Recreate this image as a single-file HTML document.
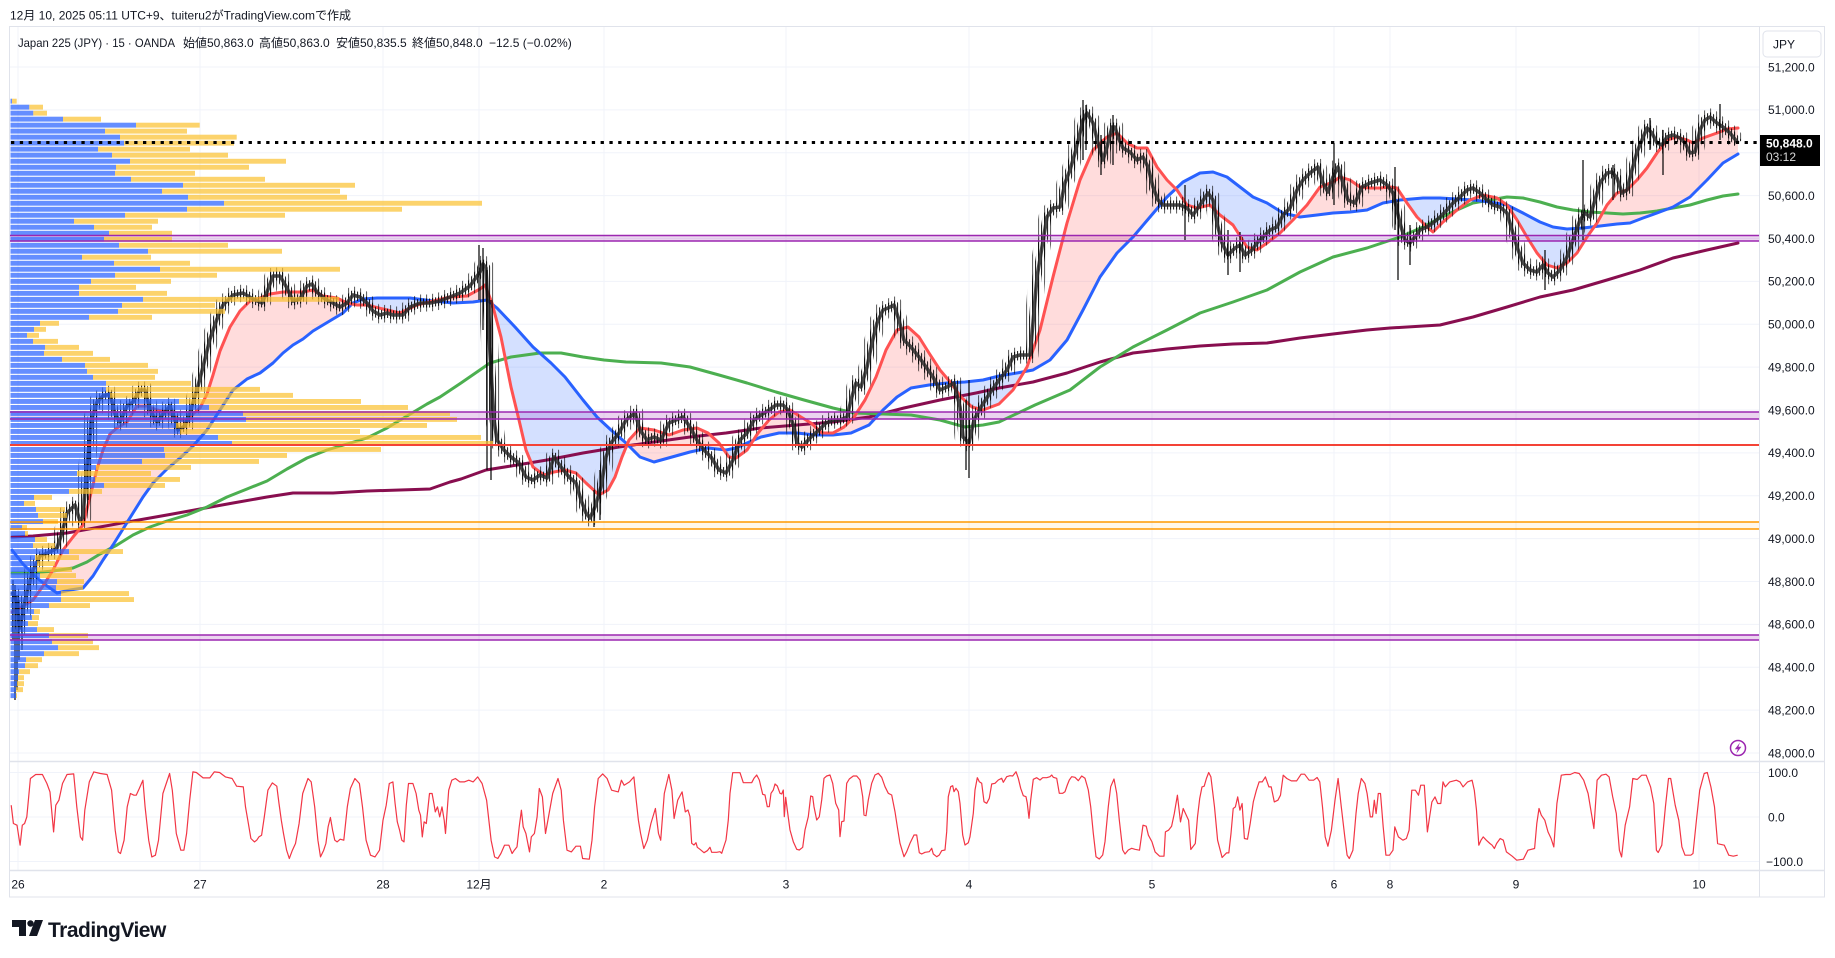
<!DOCTYPE html>
<html><head><meta charset="utf-8"><style>
html,body{margin:0;padding:0;background:#fff;}
body{width:1835px;height:958px;overflow:hidden;}
svg{display:block;font-family:"Liberation Sans","Noto Sans CJK JP",sans-serif;}
</style></head><body>
<svg width="1835" height="958" viewBox="0 0 1835 958" xmlns="http://www.w3.org/2000/svg">
<defs>
<clipPath id="plot"><rect x="9" y="27" width="1750" height="734"/></clipPath>
<clipPath id="osc"><rect x="9" y="762" width="1750" height="108"/></clipPath>
<clipPath id="aboveBlue"><polygon points="12,0 12,550 23,564 37,578 47,586 57,593 70,590 83,588 93,576 103,560 113,545 123,529 133,513 143,497 153,483 167,469 180,458 193,446 207,430 220,410 233,390 247,379 260,373 273,363 283,353 293,345 303,339 313,331 323,325 333,319 343,313 353,303 363,299 377,298 393,298 410,298 433,301 453,303 473,302 487,300 497,308 515,327 533,347 551,363 565,377 583,400 597,417 611,430 626,443 640,457 654,462 672,457 690,452 708,448 726,450 736,448 747,443 761,437 779,433 797,433 815,435 833,435 851,433 869,425 883,410 897,397 911,388 929,385 947,383 965,382 983,380 999,376 1017,373 1033,370 1050,360 1067,340 1083,310 1100,277 1117,253 1133,237 1150,217 1167,197 1183,182 1200,173 1213,172 1227,177 1240,187 1253,197 1267,203 1283,213 1300,217 1317,215 1333,213 1350,212 1367,210 1383,203 1400,200 1423,198 1440,198 1457,199 1473,200 1490,202 1507,205 1523,213 1540,222 1553,227 1567,229 1583,228 1600,226 1617,224 1630,223 1643,218 1657,213 1673,207 1690,197 1707,180 1723,163 1738,154 1738,0"/></clipPath>
<clipPath id="aboveRed"><polygon points="12,0 12,612 20,608 33,600 43,586 53,570 63,550 73,537 83,525 90,497 97,469 103,450 110,434 117,428 127,422 137,406 147,406 157,410 167,412 177,418 187,422 193,414 200,408 207,394 213,375 220,351 230,327 240,311 250,301 260,298 270,294 283,292 303,292 313,290 323,296 337,298 347,303 357,305 367,305 383,309 400,313 417,305 433,301 450,297 467,296 480,289 485,285 492,303 501,337 511,387 519,420 526,450 533,467 544,475 554,472 565,470 576,473 586,483 599,495 608,490 615,477 622,457 629,440 640,428 654,430 669,435 683,430 697,428 708,433 719,443 729,457 736,458 747,450 758,433 769,420 779,412 790,410 801,417 811,423 822,433 833,433 844,427 854,417 865,400 876,377 886,350 897,330 908,327 919,337 929,353 940,370 951,383 961,397 972,407 983,410 999,404 1013,390 1027,367 1040,330 1053,277 1067,223 1080,180 1093,150 1107,137 1117,133 1127,143 1137,148 1147,148 1157,167 1167,180 1177,190 1187,205 1197,208 1210,205 1220,215 1233,225 1247,247 1257,250 1267,243 1280,233 1293,220 1307,205 1320,187 1333,182 1340,177 1350,180 1360,187 1370,188 1380,188 1390,187 1397,188 1407,203 1417,217 1427,227 1433,232 1443,222 1457,210 1470,200 1483,195 1497,198 1507,205 1517,220 1527,237 1537,253 1547,265 1557,268 1567,263 1577,253 1587,237 1597,223 1607,205 1617,193 1627,190 1637,180 1647,168 1657,153 1667,140 1677,137 1687,140 1693,143 1703,138 1717,133 1727,129 1738,128 1738,0"/></clipPath>
<pattern id="w1" patternUnits="userSpaceOnUse" width="3" height="4"><rect x="0" y="0" width="1.1" height="4" fill="#000"/></pattern>
<pattern id="w2" patternUnits="userSpaceOnUse" width="6" height="4"><rect x="0" y="0" width="1.1" height="4" fill="#000"/></pattern>
<polyline id="px" points="12,592 16,600 20,628 25,600 33,570 40,556 50,552 57,548 62,533 67,513 75,505 80,521 83,517 87,465 92,418 97,402 103,396 110,394 115,414 120,422 127,406 133,402 140,390 145,390 150,410 157,422 163,414 170,406 173,414 178,430 185,426 192,406 198,386 203,367 210,339 217,319 223,305 233,295 243,293 253,299 262,303 267,292 273,276 280,276 287,288 293,301 300,299 307,286 312,284 317,292 325,299 333,303 340,307 347,303 353,295 360,297 367,303 373,311 380,315 387,313 393,315 403,315 410,307 420,303 430,303 440,301 450,297 460,293 470,286 480,272 483,264 486,268 490,353 494,420 497,440 504,450 511,457 519,463 526,477 533,480 540,475 547,478 554,457 561,467 569,477 576,483 581,500 586,513 590,518 595,507 601,487 606,457 611,443 619,433 626,420 635,413 640,430 647,440 654,437 661,440 669,423 676,420 683,417 690,427 697,440 704,450 711,457 719,470 726,473 733,460 740,440 747,433 754,420 761,415 769,410 776,405 783,405 788,410 794,427 797,443 802,447 811,437 819,430 826,423 833,420 840,420 847,417 851,400 856,383 861,387 867,367 872,343 877,323 883,310 888,308 894,305 899,320 904,340 911,347 919,357 926,367 933,377 940,390 947,387 954,383 960,407 963,437 969,443 974,420 981,407 990,393 999,380 1007,370 1013,357 1020,355 1030,355 1033,323 1037,277 1042,247 1047,217 1053,208 1060,207 1065,183 1070,170 1075,153 1080,133 1083,120 1087,113 1093,123 1098,143 1103,160 1107,147 1112,127 1115,127 1118,137 1123,148 1130,152 1137,160 1143,157 1148,167 1153,187 1158,200 1163,205 1170,205 1180,205 1187,208 1193,215 1200,205 1208,193 1213,200 1217,223 1222,243 1228,255 1235,248 1240,245 1245,255 1252,250 1257,243 1263,237 1270,230 1277,227 1283,215 1290,208 1297,190 1303,180 1310,173 1318,167 1323,183 1328,192 1333,177 1338,167 1343,183 1348,200 1355,203 1362,187 1370,183 1380,180 1387,185 1393,193 1400,223 1405,240 1410,243 1415,237 1420,230 1427,227 1433,223 1440,217 1447,210 1453,203 1460,197 1467,190 1473,188 1480,193 1487,200 1493,205 1500,207 1507,213 1512,230 1517,247 1523,263 1530,270 1537,272 1543,265 1548,273 1553,277 1560,270 1567,257 1573,240 1580,220 1585,213 1590,217 1595,200 1600,183 1607,173 1612,172 1617,178 1622,193 1627,190 1632,170 1637,152 1642,140 1647,128 1652,133 1657,143 1662,145 1667,137 1673,135 1680,138 1685,143 1690,153 1695,152 1700,130 1705,120 1710,117 1717,123 1723,127 1730,133 1738,143"/>
</defs>

<rect x="0" y="0" width="1835" height="958" fill="#fff"/>

<!-- header -->
<text x="10" y="19.3" font-size="12" fill="#131722">12月 10, 2025 05:11 UTC+9、tuiteru2がTradingView.comで作成</text>

<!-- grid -->
<g stroke="#f0f3fa" stroke-width="1">
<line x1="9" y1="67" x2="1759" y2="67"/><line x1="9" y1="109.9" x2="1759" y2="109.9"/><line x1="9" y1="152.8" x2="1759" y2="152.8"/><line x1="9" y1="195.6" x2="1759" y2="195.6"/><line x1="9" y1="238.5" x2="1759" y2="238.5"/><line x1="9" y1="281.4" x2="1759" y2="281.4"/><line x1="9" y1="324.3" x2="1759" y2="324.3"/><line x1="9" y1="367.1" x2="1759" y2="367.1"/><line x1="9" y1="410" x2="1759" y2="410"/><line x1="9" y1="452.9" x2="1759" y2="452.9"/><line x1="9" y1="495.8" x2="1759" y2="495.8"/><line x1="9" y1="538.6" x2="1759" y2="538.6"/><line x1="9" y1="581.5" x2="1759" y2="581.5"/><line x1="9" y1="624.4" x2="1759" y2="624.4"/><line x1="9" y1="667.3" x2="1759" y2="667.3"/><line x1="9" y1="710.1" x2="1759" y2="710.1"/><line x1="9" y1="753" x2="1759" y2="753"/>
<line x1="9" y1="772.5" x2="1759" y2="772.5"/><line x1="9" y1="817" x2="1759" y2="817"/><line x1="9" y1="861.5" x2="1759" y2="861.5"/>
<line x1="18" y1="27" x2="18" y2="870"/><line x1="200" y1="27" x2="200" y2="870"/><line x1="383" y1="27" x2="383" y2="870"/><line x1="479" y1="27" x2="479" y2="870"/><line x1="604" y1="27" x2="604" y2="870"/><line x1="786" y1="27" x2="786" y2="870"/><line x1="969" y1="27" x2="969" y2="870"/><line x1="1152" y1="27" x2="1152" y2="870"/><line x1="1334" y1="27" x2="1334" y2="870"/><line x1="1390" y1="27" x2="1390" y2="870"/><line x1="1516" y1="27" x2="1516" y2="870"/><line x1="1699" y1="27" x2="1699" y2="870"/>
</g>

<g clip-path="url(#plot)">
<!-- band fills -->
<rect x="9" y="235.5" width="1750" height="5.5" fill="#9c27b0" fill-opacity=".2"/>
<rect x="9" y="412" width="1750" height="7" fill="#9c27b0" fill-opacity=".2"/>
<rect x="9" y="522" width="1750" height="7" fill="#ff9800" fill-opacity=".08"/>
<rect x="9" y="635" width="1750" height="5" fill="#9c27b0" fill-opacity=".2"/>

<!-- ribbon fills -->
<polygon clip-path="url(#aboveBlue)" fill="#ff5252" fill-opacity=".2" points="12,900 12,612 20,608 33,600 43,586 53,570 63,550 73,537 83,525 90,497 97,469 103,450 110,434 117,428 127,422 137,406 147,406 157,410 167,412 177,418 187,422 193,414 200,408 207,394 213,375 220,351 230,327 240,311 250,301 260,298 270,294 283,292 303,292 313,290 323,296 337,298 347,303 357,305 367,305 383,309 400,313 417,305 433,301 450,297 467,296 480,289 485,285 492,303 501,337 511,387 519,420 526,450 533,467 544,475 554,472 565,470 576,473 586,483 599,495 608,490 615,477 622,457 629,440 640,428 654,430 669,435 683,430 697,428 708,433 719,443 729,457 736,458 747,450 758,433 769,420 779,412 790,410 801,417 811,423 822,433 833,433 844,427 854,417 865,400 876,377 886,350 897,330 908,327 919,337 929,353 940,370 951,383 961,397 972,407 983,410 999,404 1013,390 1027,367 1040,330 1053,277 1067,223 1080,180 1093,150 1107,137 1117,133 1127,143 1137,148 1147,148 1157,167 1167,180 1177,190 1187,205 1197,208 1210,205 1220,215 1233,225 1247,247 1257,250 1267,243 1280,233 1293,220 1307,205 1320,187 1333,182 1340,177 1350,180 1360,187 1370,188 1380,188 1390,187 1397,188 1407,203 1417,217 1427,227 1433,232 1443,222 1457,210 1470,200 1483,195 1497,198 1507,205 1517,220 1527,237 1537,253 1547,265 1557,268 1567,263 1577,253 1587,237 1597,223 1607,205 1617,193 1627,190 1637,180 1647,168 1657,153 1667,140 1677,137 1687,140 1693,143 1703,138 1717,133 1727,129 1738,128 1738,900"/>
<polygon clip-path="url(#aboveRed)" fill="#2962ff" fill-opacity=".2" points="12,900 12,550 23,564 37,578 47,586 57,593 70,590 83,588 93,576 103,560 113,545 123,529 133,513 143,497 153,483 167,469 180,458 193,446 207,430 220,410 233,390 247,379 260,373 273,363 283,353 293,345 303,339 313,331 323,325 333,319 343,313 353,303 363,299 377,298 393,298 410,298 433,301 453,303 473,302 487,300 497,308 515,327 533,347 551,363 565,377 583,400 597,417 611,430 626,443 640,457 654,462 672,457 690,452 708,448 726,450 736,448 747,443 761,437 779,433 797,433 815,435 833,435 851,433 869,425 883,410 897,397 911,388 929,385 947,383 965,382 983,380 999,376 1017,373 1033,370 1050,360 1067,340 1083,310 1100,277 1117,253 1133,237 1150,217 1167,197 1183,182 1200,173 1213,172 1227,177 1240,187 1253,197 1267,203 1283,213 1300,217 1317,215 1333,213 1350,212 1367,210 1383,203 1400,200 1423,198 1440,198 1457,199 1473,200 1490,202 1507,205 1523,213 1540,222 1553,227 1567,229 1583,228 1600,226 1617,224 1630,223 1643,218 1657,213 1673,207 1690,197 1707,180 1723,163 1738,154 1738,900"/>

<!-- moving averages -->
<g fill="none" stroke-width="3" stroke-linejoin="round" stroke-linecap="round">
<polyline stroke="#880e4f" points="12,537 33,536 67,533 100,527 133,521 167,515 200,509 233,503 267,497 293,493 333,493 367,491 400,490 430,489 450,482 461,479 486,470 511,466 547,460 583,453 619,447 654,442 690,437 726,433 761,428 797,425 833,422 869,417 904,408 940,400 976,393 999,388 1033,382 1067,373 1100,362 1133,353 1167,349 1200,346 1233,344 1267,343 1300,338 1333,334 1367,330 1390,328 1440,325 1473,317 1507,307 1540,297 1573,290 1607,280 1640,270 1673,258 1707,250 1738,243"/>
<polyline stroke="#4caf50" points="12,573 33,573 53,571 73,568 87,562 100,554 117,545 133,535 150,527 167,521 187,515 207,507 227,497 247,489 267,481 287,469 307,458 327,450 347,444 367,438 387,428 407,416 427,404 440,397 461,383 490,363 511,357 540,353 561,353 583,357 604,360 626,362 661,363 690,367 719,375 747,383 776,392 804,400 833,408 854,413 883,414 911,415 940,420 965,427 983,425 999,422 1035,405 1070,390 1100,367 1133,347 1167,330 1200,313 1233,302 1267,290 1300,272 1333,257 1367,248 1400,237 1423,227 1440,218 1457,210 1473,203 1490,200 1507,197 1523,198 1540,202 1557,207 1573,210 1590,212 1607,213 1623,214 1640,213 1657,211 1673,208 1690,205 1707,200 1723,196 1738,194"/>
<polyline stroke="#2962ff" points="12,550 23,564 37,578 47,586 57,593 70,590 83,588 93,576 103,560 113,545 123,529 133,513 143,497 153,483 167,469 180,458 193,446 207,430 220,410 233,390 247,379 260,373 273,363 283,353 293,345 303,339 313,331 323,325 333,319 343,313 353,303 363,299 377,298 393,298 410,298 433,301 453,303 473,302 487,300 497,308 515,327 533,347 551,363 565,377 583,400 597,417 611,430 626,443 640,457 654,462 672,457 690,452 708,448 726,450 736,448 747,443 761,437 779,433 797,433 815,435 833,435 851,433 869,425 883,410 897,397 911,388 929,385 947,383 965,382 983,380 999,376 1017,373 1033,370 1050,360 1067,340 1083,310 1100,277 1117,253 1133,237 1150,217 1167,197 1183,182 1200,173 1213,172 1227,177 1240,187 1253,197 1267,203 1283,213 1300,217 1317,215 1333,213 1350,212 1367,210 1383,203 1400,200 1423,198 1440,198 1457,199 1473,200 1490,202 1507,205 1523,213 1540,222 1553,227 1567,229 1583,228 1600,226 1617,224 1630,223 1643,218 1657,213 1673,207 1690,197 1707,180 1723,163 1738,154"/>
<polyline stroke="#ff5252" points="12,612 20,608 33,600 43,586 53,570 63,550 73,537 83,525 90,497 97,469 103,450 110,434 117,428 127,422 137,406 147,406 157,410 167,412 177,418 187,422 193,414 200,408 207,394 213,375 220,351 230,327 240,311 250,301 260,298 270,294 283,292 303,292 313,290 323,296 337,298 347,303 357,305 367,305 383,309 400,313 417,305 433,301 450,297 467,296 480,289 485,285 492,303 501,337 511,387 519,420 526,450 533,467 544,475 554,472 565,470 576,473 586,483 599,495 608,490 615,477 622,457 629,440 640,428 654,430 669,435 683,430 697,428 708,433 719,443 729,457 736,458 747,450 758,433 769,420 779,412 790,410 801,417 811,423 822,433 833,433 844,427 854,417 865,400 876,377 886,350 897,330 908,327 919,337 929,353 940,370 951,383 961,397 972,407 983,410 999,404 1013,390 1027,367 1040,330 1053,277 1067,223 1080,180 1093,150 1107,137 1117,133 1127,143 1137,148 1147,148 1157,167 1167,180 1177,190 1187,205 1197,208 1210,205 1220,215 1233,225 1247,247 1257,250 1267,243 1280,233 1293,220 1307,205 1320,187 1333,182 1340,177 1350,180 1360,187 1370,188 1380,188 1390,187 1397,188 1407,203 1417,217 1427,227 1433,232 1443,222 1457,210 1470,200 1483,195 1497,198 1507,205 1517,220 1527,237 1537,253 1547,265 1557,268 1567,263 1577,253 1587,237 1597,223 1607,205 1617,193 1627,190 1637,180 1647,168 1657,153 1667,140 1677,137 1687,140 1693,143 1703,138 1717,133 1727,129 1738,128"/>
</g>

<!-- candles texture + price line -->
<g fill="none" stroke-linejoin="round">
<use href="#px" stroke="url(#w2)" stroke-width="17" stroke-opacity=".6"/>
<use href="#px" stroke="url(#w1)" stroke-width="9" stroke-opacity=".85"/>
<use href="#px" stroke="#2a2a2a" stroke-width="3.6" stroke-opacity=".85"/>
</g>
<path stroke="#000" stroke-width="1.2" fill="none" d="M13 580V640M15 585V700M17 595V690M19 600V660M22 605V650M88 440V500M90 420V480M479 245V300M483 248V330M487 270V470M491 300V480M594 490V527M600 470V520M966 400V470M969 380V478M1083 100V160M1086 105V150M1101 135V175M1113 115V165M1185 185V240M1228 230V275M1240 232V272M1334 143V205M1395 167V230M1398 200V280M1583 160V240M1613 165V200M1663 130V175M1720 104V140M1650 118V150M1410 225V265M1545 250V290"/>

<!-- volume profile -->
<g fill="#2962ff" fill-opacity=".72">
<rect x="10.5" y="98.7" width="1.5" height="4.9"/><rect x="10.5" y="104.7" width="18.8" height="4.9"/><rect x="10.5" y="110.7" width="22.8" height="4.9"/><rect x="10.5" y="116.7" width="52.5" height="4.9"/><rect x="10.5" y="122.7" width="125.5" height="4.9"/><rect x="10.5" y="128.7" width="94.5" height="4.9"/><rect x="10.5" y="134.7" width="109.5" height="4.9"/><rect x="10.5" y="140.7" width="113.5" height="4.9"/><rect x="10.5" y="146.7" width="87.5" height="4.9"/><rect x="10.5" y="152.7" width="101.5" height="4.9"/>
<rect x="10.5" y="158.8" width="119.5" height="4.9"/><rect x="10.5" y="164.8" width="105.5" height="4.9"/><rect x="10.5" y="170.8" width="104.5" height="4.9"/><rect x="10.5" y="176.8" width="120.5" height="4.9"/><rect x="10.5" y="182.8" width="172.5" height="4.9"/><rect x="10.5" y="188.8" width="151.5" height="4.9"/><rect x="10.5" y="194.8" width="177.5" height="4.9"/><rect x="10.5" y="200.8" width="213.5" height="4.9"/><rect x="10.5" y="206.8" width="176.5" height="4.9"/><rect x="10.5" y="212.8" width="114.5" height="4.9"/>
<rect x="10.5" y="218.8" width="63.5" height="4.9"/><rect x="10.5" y="224.8" width="83.5" height="4.9"/><rect x="10.5" y="230.8" width="98.5" height="4.9"/><rect x="10.5" y="236.8" width="93.5" height="4.9"/><rect x="10.5" y="242.8" width="108.5" height="4.9"/><rect x="10.5" y="248.8" width="137.5" height="4.9"/><rect x="10.5" y="254.8" width="71.5" height="4.9"/><rect x="10.5" y="260.8" width="103.5" height="4.9"/><rect x="10.5" y="266.8" width="149.5" height="4.9"/><rect x="10.5" y="272.8" width="104.5" height="4.9"/>
<rect x="10.5" y="278.9" width="80.5" height="4.9"/><rect x="10.5" y="284.9" width="68.5" height="4.9"/><rect x="10.5" y="290.9" width="68.5" height="4.9"/><rect x="10.5" y="296.9" width="132.5" height="4.9"/><rect x="10.5" y="302.9" width="111.5" height="4.9"/><rect x="10.5" y="308.9" width="107.5" height="4.9"/><rect x="10.5" y="314.9" width="78.5" height="4.9"/><rect x="10.5" y="320.9" width="29.5" height="4.9"/><rect x="10.5" y="326.9" width="23.5" height="4.9"/><rect x="10.5" y="332.9" width="16.5" height="4.9"/>
<rect x="10.5" y="338.9" width="22.5" height="4.9"/><rect x="10.5" y="344.9" width="34.5" height="4.9"/><rect x="10.5" y="350.9" width="33.5" height="4.9"/><rect x="10.5" y="356.9" width="51.5" height="4.9"/><rect x="10.5" y="362.9" width="74.5" height="4.9"/><rect x="10.5" y="368.9" width="76.5" height="4.9"/><rect x="10.5" y="374.9" width="82.5" height="4.9"/><rect x="10.5" y="380.9" width="95.5" height="4.9"/><rect x="10.5" y="386.9" width="95.5" height="4.9"/><rect x="10.5" y="392.9" width="99.5" height="4.9"/>
<rect x="10.5" y="399" width="168.5" height="4.9"/><rect x="10.5" y="405" width="198.5" height="4.9"/><rect x="10.5" y="411" width="232.5" height="4.9"/><rect x="10.5" y="417" width="235.5" height="4.9"/><rect x="10.5" y="423" width="165.5" height="4.9"/><rect x="10.5" y="429" width="169.5" height="4.9"/><rect x="10.5" y="435" width="207.5" height="4.9"/><rect x="10.5" y="441" width="221.5" height="4.9"/><rect x="10.5" y="447" width="153.5" height="4.9"/><rect x="10.5" y="453" width="154.5" height="4.9"/>
<rect x="10.5" y="459" width="131.5" height="4.9"/><rect x="10.5" y="465" width="85.5" height="4.9"/><rect x="10.5" y="471" width="66.5" height="4.9"/><rect x="10.5" y="477" width="84.5" height="4.9"/><rect x="10.5" y="483" width="93.5" height="4.9"/><rect x="10.5" y="489" width="58.5" height="4.9"/><rect x="10.5" y="495" width="23.5" height="4.9"/><rect x="10.5" y="501" width="13.5" height="4.9"/><rect x="10.5" y="507" width="25.5" height="4.9"/><rect x="10.5" y="513" width="27.5" height="4.9"/>
<rect x="10.5" y="519.1" width="32.5" height="4.9"/><rect x="10.5" y="525.1" width="11.5" height="4.9"/><rect x="10.5" y="531.1" width="14.5" height="4.9"/><rect x="10.5" y="537.1" width="24.5" height="4.9"/><rect x="10.5" y="543.1" width="22.5" height="4.9"/><rect x="10.5" y="549.1" width="58.5" height="4.9"/><rect x="10.5" y="555.1" width="24.5" height="4.9"/><rect x="10.5" y="561.1" width="26.5" height="4.9"/><rect x="10.5" y="567.1" width="26.5" height="4.9"/><rect x="10.5" y="573.1" width="29.5" height="4.9"/>
<rect x="10.5" y="579.1" width="46.5" height="4.9"/><rect x="10.5" y="585.1" width="45.5" height="4.9"/><rect x="10.5" y="591.1" width="50.5" height="4.9"/><rect x="10.5" y="597.1" width="50.5" height="4.9"/><rect x="10.5" y="603.1" width="38.5" height="4.9"/><rect x="10.5" y="609.1" width="23.5" height="4.9"/><rect x="10.5" y="615.1" width="21.5" height="4.9"/><rect x="10.5" y="621.1" width="17.5" height="4.9"/><rect x="10.5" y="627.1" width="26.5" height="4.9"/><rect x="10.5" y="633.1" width="38.5" height="4.9"/>
<rect x="10.5" y="639.2" width="41.5" height="4.9"/><rect x="10.5" y="645.2" width="47.5" height="4.9"/><rect x="10.5" y="651.2" width="33.5" height="4.9"/><rect x="10.5" y="657.2" width="15.5" height="4.9"/><rect x="10.5" y="663.2" width="14.5" height="4.9"/><rect x="10.5" y="669.2" width="8.5" height="4.9"/><rect x="10.5" y="675.2" width="7.5" height="4.9"/><rect x="10.5" y="681.2" width="6.5" height="4.9"/><rect x="10.5" y="687.2" width="5.5" height="4.9"/><rect x="10.5" y="693.2" width="5.5" height="4.9"/>
</g>
<g fill="#fbc02d" fill-opacity=".7">
<rect x="12" y="98.7" width="4.7" height="4.9"/><rect x="29.3" y="104.7" width="13.7" height="4.9"/><rect x="33.3" y="110.7" width="13.7" height="4.9"/><rect x="63" y="116.7" width="38" height="4.9"/><rect x="136" y="122.7" width="63.7" height="4.9"/><rect x="105" y="128.7" width="82" height="4.9"/><rect x="120" y="134.7" width="116.7" height="4.9"/><rect x="124" y="140.7" width="110" height="4.9"/><rect x="98" y="146.7" width="92" height="4.9"/><rect x="112" y="152.7" width="116" height="4.9"/>
<rect x="130" y="158.8" width="156" height="4.9"/><rect x="116" y="164.8" width="133" height="4.9"/><rect x="115" y="170.8" width="80" height="4.9"/><rect x="131" y="176.8" width="134" height="4.9"/><rect x="183" y="182.8" width="172" height="4.9"/><rect x="162" y="188.8" width="178" height="4.9"/><rect x="188" y="194.8" width="159" height="4.9"/><rect x="224" y="200.8" width="258" height="4.9"/><rect x="187" y="206.8" width="215" height="4.9"/><rect x="125" y="212.8" width="160" height="4.9"/>
<rect x="74" y="218.8" width="84" height="4.9"/><rect x="94" y="224.8" width="58" height="4.9"/><rect x="109" y="230.8" width="63" height="4.9"/><rect x="104" y="236.8" width="68" height="4.9"/><rect x="119" y="242.8" width="109" height="4.9"/><rect x="148" y="248.8" width="134" height="4.9"/><rect x="82" y="254.8" width="69" height="4.9"/><rect x="114" y="260.8" width="76" height="4.9"/><rect x="160" y="266.8" width="180" height="4.9"/><rect x="115" y="272.8" width="102" height="4.9"/>
<rect x="91" y="278.9" width="80" height="4.9"/><rect x="79" y="284.9" width="57" height="4.9"/><rect x="79" y="290.9" width="88" height="4.9"/><rect x="143" y="296.9" width="196" height="4.9"/><rect x="122" y="302.9" width="93" height="4.9"/><rect x="118" y="308.9" width="107" height="4.9"/><rect x="89" y="314.9" width="63" height="4.9"/><rect x="40" y="320.9" width="19" height="4.9"/><rect x="34" y="326.9" width="12" height="4.9"/><rect x="27" y="332.9" width="12" height="4.9"/>
<rect x="33" y="338.9" width="25" height="4.9"/><rect x="45" y="344.9" width="34" height="4.9"/><rect x="44" y="350.9" width="49" height="4.9"/><rect x="62" y="356.9" width="48" height="4.9"/><rect x="85" y="362.9" width="63" height="4.9"/><rect x="87" y="368.9" width="71" height="4.9"/><rect x="93" y="374.9" width="62" height="4.9"/><rect x="106" y="380.9" width="85" height="4.9"/><rect x="106" y="386.9" width="154" height="4.9"/><rect x="110" y="392.9" width="183" height="4.9"/>
<rect x="179" y="399" width="182" height="4.9"/><rect x="209" y="405" width="199" height="4.9"/><rect x="243" y="411" width="207" height="4.9"/><rect x="246" y="417" width="211" height="4.9"/><rect x="176" y="423" width="251" height="4.9"/><rect x="180" y="429" width="180" height="4.9"/><rect x="218" y="435" width="263" height="4.9"/><rect x="232" y="441" width="261" height="4.9"/><rect x="164" y="447" width="217" height="4.9"/><rect x="165" y="453" width="122" height="4.9"/>
<rect x="142" y="459" width="117" height="4.9"/><rect x="96" y="465" width="95" height="4.9"/><rect x="77" y="471" width="74" height="4.9"/><rect x="95" y="477" width="85" height="4.9"/><rect x="104" y="483" width="61" height="4.9"/><rect x="69" y="489" width="33" height="4.9"/><rect x="34" y="495" width="18" height="4.9"/><rect x="24" y="501" width="11" height="4.9"/><rect x="36" y="507" width="29" height="4.9"/><rect x="38" y="513" width="29" height="4.9"/>
<rect x="43" y="519.1" width="15" height="4.9"/><rect x="22" y="525.1" width="5" height="4.9"/><rect x="25" y="531.1" width="3" height="4.9"/><rect x="35" y="537.1" width="12" height="4.9"/><rect x="33" y="543.1" width="22" height="4.9"/><rect x="69" y="549.1" width="54" height="4.9"/><rect x="35" y="555.1" width="44" height="4.9"/><rect x="37" y="561.1" width="18" height="4.9"/><rect x="37" y="567.1" width="35" height="4.9"/><rect x="40" y="573.1" width="36" height="4.9"/>
<rect x="57" y="579.1" width="27" height="4.9"/><rect x="56" y="585.1" width="27" height="4.9"/><rect x="61" y="591.1" width="68" height="4.9"/><rect x="61" y="597.1" width="73" height="4.9"/><rect x="49" y="603.1" width="41" height="4.9"/><rect x="34" y="609.1" width="6" height="4.9"/><rect x="32" y="615.1" width="7" height="4.9"/><rect x="28" y="621.1" width="10" height="4.9"/><rect x="37" y="627.1" width="17" height="4.9"/><rect x="49" y="633.1" width="39" height="4.9"/>
<rect x="52" y="639.2" width="41" height="4.9"/><rect x="58" y="645.2" width="41" height="4.9"/><rect x="44" y="651.2" width="35" height="4.9"/><rect x="26" y="657.2" width="16" height="4.9"/><rect x="25" y="663.2" width="13" height="4.9"/><rect x="19" y="669.2" width="11" height="4.9"/><rect x="18" y="675.2" width="6" height="4.9"/><rect x="17" y="681.2" width="7" height="4.9"/><rect x="16" y="687.2" width="7" height="4.9"/><rect x="16" y="693.2" width="1" height="4.9"/>
</g>

<!-- horizontal level lines -->
<g stroke-width="1.5" fill="none">
<line x1="9" y1="235.5" x2="1759" y2="235.5" stroke="#9c27b0"/><line x1="9" y1="241" x2="1759" y2="241" stroke="#9c27b0"/>
<line x1="9" y1="412" x2="1759" y2="412" stroke="#9c27b0"/><line x1="9" y1="419" x2="1759" y2="419" stroke="#9c27b0"/>
<line x1="9" y1="522" x2="1759" y2="522" stroke="#ff9800"/><line x1="9" y1="529" x2="1759" y2="529" stroke="#ff9800"/>
<line x1="9" y1="635" x2="1759" y2="635" stroke="#9c27b0"/><line x1="9" y1="640" x2="1759" y2="640" stroke="#9c27b0"/>
<line x1="9" y1="445" x2="1759" y2="445" stroke="#f44336" stroke-width="2"/>
</g>
<line x1="11" y1="142.5" x2="1759" y2="142.5" stroke="#000" stroke-width="3" stroke-dasharray="3.3 5.5"/>

<!-- lightning icon -->
<circle cx="1738" cy="748" r="7.5" fill="#fff" stroke="#9c27b0" stroke-width="1.5"/>
<polygon points="1740,742.5 1734.8,749.2 1737.8,749.2 1736.2,753.8 1741.4,746.8 1738.4,746.8" fill="#9c27b0"/>
</g>

<!-- oscillator -->
<g clip-path="url(#osc)">
<polyline fill="none" stroke="#f23645" stroke-width="1.2" stroke-linejoin="round" points="11.2,805.2 13.4,823.5 17,825.2 20.1,845.2 22.3,825.2 24.6,823.5 26.8,816.9 30.4,778.5 35.7,774.5 42.4,774.5 46.9,783.5 50,791.9 53.6,831.9 55.8,805.2 58.9,800.2 62.5,783.5 67,774.5 73.7,773.9 76.8,806.9 80.4,836.9 82.6,840.2 84.8,810.2 89.3,781.9 93.8,771.9 100.4,773.5 107.1,774.5 111.6,790.2 115.2,830.2 118.3,851.9 120.5,853.5 124.1,840.2 127.2,806.9 130.4,793.5 133.9,795.2 136.2,795.2 139.3,788.5 142.9,780.2 145.1,806.9 148.7,840.2 151.8,856.9 155.4,855.2 158.5,840.2 162.9,793.5 169.6,773.5 172.3,790.2 176.3,833.5 180.8,850.2 183.9,850.2 186.6,833.5 189.7,800.2 192.9,771.9 196.4,772.5 203.1,777.9 209.8,777.9 214.3,771.9 219.6,772.5 225.4,776.9 232.1,778.5 236.6,786.2 243.3,786.9 245.5,806.9 247.8,820.2 250.9,838.5 254.5,841.9 256.7,840.2 258.9,836.9 261.6,835.2 264.3,816.9 267.9,790.2 272.3,782.9 276.8,786.2 279,803.5 281.3,820.2 283.5,833.5 286.6,850.2 289.3,858.5 292.4,850.2 295.5,843.5 299.1,823.5 302.7,793.5 308,778.5 311.2,781.9 314.7,806.9 317.9,840.2 320.5,856.9 323.7,850.2 325.9,843.5 328.1,826.9 330.4,817.5 332.6,830.2 334.8,840.2 337.1,841.9 340.2,839.2 343.8,840.2 347.3,806.9 350.4,788.5 354.9,778.5 359.4,783.5 362.5,806.9 366.1,840.2 370.5,855.2 375,856.9 379.5,850.2 383,820.2 386.2,805.2 389.3,783.5 392.9,781.9 395.1,803.5 397.3,821.9 399.6,830.2 401.8,840.2 404,841.9 406.3,805.2 408.5,783.5 412.9,783.5 416.1,793.5 418.8,810.2 420.5,815.2 422.3,836.9 424.1,821.9 426.3,823.5 429.5,793.5 432.1,793.5 433.9,803.5 435.3,811.9 437.5,806.9 439.7,816.9 442,806.9 444.2,820.2 445.5,833.5 448.7,790.2 451.8,780.2 455.4,778.5 459.8,781.9 464.3,781.9 468.8,780.2 473.2,781.9 477.7,776.9 482.1,783.5 486.6,800.2 491.1,840.2 494.6,856.9 497.8,858.5 500.9,853.5 504.5,845.2 508.9,845.2 512.1,853.5 514.3,850.2 517,846.9 519.2,826.9 521.4,810.2 523.2,826.9 525.9,833.5 529.5,851.9 531.3,836.9 534.4,833.5 537.1,816.9 539.3,788.5 542.4,796.9 545.5,833.5 549.1,813.5 552.7,793.5 558,778.5 561.2,790.2 563.4,820.2 567,850.2 571.4,851.9 575.9,846.2 580.4,846.2 582.6,858.5 589.3,859.2 592,840.2 594.6,806.9 598.2,778.5 602.7,773.9 607.1,778.5 611.6,790.2 618.3,791.9 621.4,780.2 624.1,785.2 629.5,781.9 633.9,776.9 636.2,800.2 638.4,820.2 640.6,833.5 643.8,848.5 647.3,840.2 650.9,823.5 655.4,808.5 658.5,833.5 660.7,840.2 664.3,793.5 668.8,774.5 671.9,790.2 674.1,818.5 677.7,800.2 682.1,791.9 685.3,811.9 688,810 690,816.7 691.7,843.3 694,845 696,842.7 697.3,847.3 700,849.3 704,852.7 707.3,850.7 710,847.3 711.7,852.3 716.7,852.3 720,851.7 721.7,853.3 723.3,848.3 726,840 728.3,820 730,793.3 732.7,772.7 740,772.7 743.3,782.7 751.7,782.7 754,778.3 756.7,775 759.3,780 762.7,794.3 765,795 767.3,806.7 769.3,806.7 771,793.3 773.3,790 775,784 777.3,786 780,793.3 781.7,794 783.3,790 784.3,816.7 785.7,797.3 787.3,810 790,830 793.3,841.7 796.7,849.3 799.3,850 802.7,847.3 805,830 808.3,816.7 810.7,796 812.7,796.7 814,806.7 816.7,820 819.3,816.7 821.7,800 824,778.3 826.7,776 830,775 832.7,783.3 835.7,803.3 838.7,810 840,836.7 841.7,821.7 844,821 846.7,783.3 849.3,779 853.3,776 856.7,776 860,780 862.7,796.7 864,815 866,815.7 868.3,800 871.7,783.3 875,775 878.3,773.3 881.7,777.3 885,786.7 888.3,793.3 891.7,795 895,811.7 897.3,826.7 900,843.3 904,856.7 906.7,851.7 910,843.3 914,835 916.7,835 919.3,852.7 921.7,854 925,852.3 929.3,851.7 931.7,848.3 933.3,854 936.7,856.7 939.3,855 941.7,850.7 945,850 946.7,831.7 948.3,796.7 950.7,786.7 952.7,785.7 954,791.7 956,788.3 958.3,791.7 960,803.3 962.7,835 965,845 968.3,842.7 970,836.7 973.3,813.3 975,790 977.3,777.7 979.3,781.7 981.7,783.3 984,801.7 986.7,803.3 989.3,798.3 991.7,784 995,783.3 998.3,780 1001.7,778.3 1003.3,782.3 1006.7,776.7 1010,775.7 1012.7,776 1016,771.7 1018.3,778.3 1020.7,788.3 1023.3,795.7 1026,796.7 1027.3,803.3 1029,818.3 1030.7,800 1033.3,779.3 1036.7,777.7 1040,780 1042.7,777.7 1046.7,777.7 1050,776.7 1051.7,775 1053.3,777.3 1056.7,778.3 1059.3,793.3 1062.7,793.3 1065,791.7 1067.3,785 1069.3,780 1071.7,776.7 1075,777.3 1078.3,780.7 1081.7,776 1085,778.3 1088.3,790 1090.7,806.7 1093.3,833.3 1096,856.7 1099.3,859 1102.7,855 1105,841.7 1108.3,806.7 1110.7,786.7 1114,779 1116.7,793.3 1119.3,820 1122.7,850 1125,854 1128.3,850 1131.7,848.3 1135,849.3 1139.5,850.2 1143,825.2 1146.2,826.2 1148.4,835.2 1152,841.9 1155.1,851.9 1159.6,856.2 1164,856.2 1165.4,831.9 1168.5,830.2 1171.6,826.2 1174.3,813.5 1177.4,795.2 1180.5,821.9 1183.2,808.5 1186.3,815.2 1188.6,820.2 1190.8,849.5 1195.3,843.5 1197.5,816.9 1199.7,798.5 1202,786.9 1204.2,786.2 1206.4,778.5 1208.7,772.5 1210.9,776.9 1214.5,806.9 1217.6,840.2 1222.1,857.5 1226.5,852.9 1228.8,852.9 1231,833.5 1233.2,808.5 1235.4,806.9 1237.7,796.9 1239.9,810.2 1242.1,803.5 1244.4,838.5 1247.5,839.2 1250.2,823.5 1253.3,801.9 1256.4,790.2 1259.1,781.9 1262.2,781.9 1265.4,776.9 1268.9,786.9 1271.2,786.9 1274.3,801.9 1277.9,800.2 1280.5,795.2 1283.2,775.2 1286.8,778.5 1291.3,780.9 1296.6,780.9 1301.1,774.2 1304.6,774.2 1309.1,780.2 1313.6,780.2 1317.1,777.5 1319.8,781.9 1322.5,806.9 1325.2,836.9 1327.9,846.2 1331.4,830.2 1335,800.2 1338.1,778.5 1341.3,806.9 1344.8,836.9 1347.1,855.2 1349.3,858.5 1352.9,850.2 1356,813.5 1358.2,793.5 1361.3,778.5 1364.9,783.5 1367.1,793.5 1370.3,816.9 1372.5,816.9 1374.3,800.2 1376.1,813.5 1378.3,793.5 1380.5,793.5 1383.2,826.9 1385.9,855.2 1389.5,855.2 1393,850.2 1394.8,826.9 1398.4,836.9 1402.9,840.2 1406.4,838.5 1409.1,830.2 1411.8,790.2 1415.4,790.2 1418.5,795.2 1420.7,785.2 1424.3,785.2 1427.4,831.9 1429.6,816.9 1431.9,801.9 1435,796.9 1437.7,803.5 1440.8,803.5 1443,781.9 1445.3,786.9 1449.7,781.9 1456.4,780.2 1460,781.9 1463.1,786.9 1467.6,781.9 1472.1,780.2 1474.3,790.2 1476.5,810.2 1478.8,845.2 1481,840.2 1483.2,836.9 1486.3,840.2 1489.9,843.5 1492.1,845.2 1494.4,848.5 1496.6,843.5 1500.2,838.5 1503.3,840.2 1506.4,851.9 1512.2,856.2 1516.7,860.2 1523.4,859.2 1527.9,850.2 1534.6,848.5 1536.8,823.5 1539,808.5 1541.3,815.2 1544.8,820.2 1548,831.9 1551.1,838.5 1553.8,846.9 1556.9,803.5 1561.3,775.2 1565.8,774.5 1570.3,774.5 1574.7,772.5 1579.2,773.5 1583.7,780.2 1588.1,793.5 1593.9,828.5 1597.1,780.2 1601.5,775.2 1606,774.2 1609.1,776.9 1612.7,796.9 1616.3,813.5 1619.4,850.2 1621.6,856.9 1625.2,825.2 1629.6,806.9 1632.8,778.5 1637.2,779.5 1641.7,775.2 1646.2,775.2 1650.6,786.9 1653.8,803.5 1656.4,850.2 1658.2,852.5 1661.8,845.2 1665.4,806.9 1668.5,778.5 1670.7,778.5 1675.2,805.2 1678.8,820.2 1681.9,846.9 1685,855.2 1690.8,855.2 1693,853.5 1696.6,818.5 1699.7,790.2 1704.2,773.5 1707.3,772.5 1710.9,786.9 1714.5,806.9 1717.6,843.5 1719.8,844.2 1724.3,845.2 1728.8,855.2 1733.3,856.2 1737.7,855.2"/>
</g>

<!-- frame and separators -->
<g stroke="#e0e3eb" stroke-width="1" fill="none">
<rect x="9.5" y="26.5" width="1815" height="870.5"/>
<line x1="1759.5" y1="27" x2="1759.5" y2="897"/>
<line x1="9" y1="761.5" x2="1825" y2="761.5" stroke-width="1.5"/>
<line x1="9" y1="870.5" x2="1825" y2="870.5" stroke-width="1.5"/>
</g>

<!-- legend -->
<g font-size="12" fill="#131722">
<text x="18" y="47" textLength="157" lengthAdjust="spacingAndGlyphs">Japan 225 (JPY) · 15 · OANDA</text>
<text x="183" y="47">始値50,863.0</text>
<text x="259" y="47">高値50,863.0</text>
<text x="336" y="47">安値50,835.5</text>
<text x="412" y="47">終値50,848.0</text>
<text x="489" y="47">−12.5 (−0.02%)</text>
</g>

<!-- price axis -->
<rect x="1763" y="31" width="58" height="26" rx="4" fill="#fff" stroke="#e0e3eb"/>
<text x="1773" y="48.3" font-size="12" fill="#131722">JPY</text>
<g font-size="12" fill="#131722">
<text x="1768" y="71.3">51,200.0</text><text x="1768" y="114.2">51,000.0</text><text x="1768" y="199.9">50,600.0</text><text x="1768" y="242.8">50,400.0</text><text x="1768" y="285.7">50,200.0</text><text x="1768" y="328.6">50,000.0</text><text x="1768" y="371.4">49,800.0</text><text x="1768" y="414.3">49,600.0</text><text x="1768" y="457.2">49,400.0</text><text x="1768" y="500.1">49,200.0</text><text x="1768" y="542.9">49,000.0</text><text x="1768" y="585.8">48,800.0</text><text x="1768" y="628.7">48,600.0</text><text x="1768" y="671.6">48,400.0</text><text x="1768" y="714.4">48,200.0</text><text x="1768" y="757.3">48,000.0</text>
<text x="1768" y="776.8">100.0</text><text x="1768" y="821.3">0.0</text><text x="1766" y="865.8">−100.0</text>
</g>
<rect x="1760" y="135" width="60" height="31" fill="#000"/>
<text x="1766" y="147.5" font-size="12" font-weight="bold" fill="#fff">50,848.0</text>
<text x="1766" y="161" font-size="12" fill="#d8d8d8">03:12</text>

<!-- time axis -->
<g font-size="12" fill="#131722" text-anchor="middle">
<text x="18" y="888.3">26</text><text x="200" y="888.3">27</text><text x="383" y="888.3">28</text><text x="479" y="888.3">12月</text><text x="604" y="888.3">2</text><text x="786" y="888.3">3</text><text x="969" y="888.3">4</text><text x="1152" y="888.3">5</text><text x="1334" y="888.3">6</text><text x="1390" y="888.3">8</text><text x="1516" y="888.3">9</text><text x="1699" y="888.3">10</text>
</g>

<!-- logo -->
<g fill="#131722">
<path d="M12 920h14v16h-7v-9h-7z"/>
<circle cx="30.5" cy="923.5" r="3.2"/>
<polygon points="35,920 43,920 37,936 29,936"/>
<text x="48" y="937" font-size="21" font-weight="bold" letter-spacing="-0.5">TradingView</text>
</g>
</svg>
</body></html>
